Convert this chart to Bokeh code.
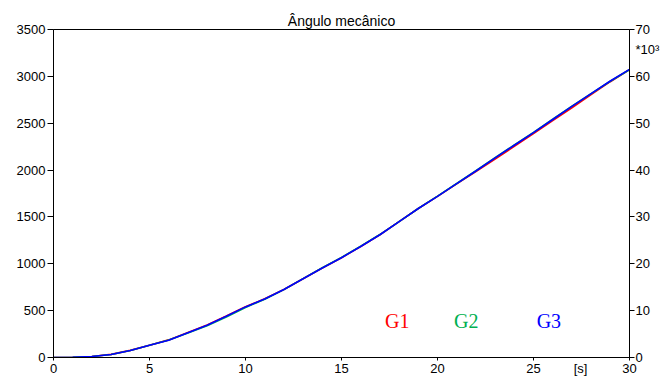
from bokeh.plotting import figure
from bokeh.models import Range1d, LinearAxis, FixedTicker, Label
from bokeh.embed import file_html
from bokeh.resources import INLINE

# time [s]
t = [0, 1, 2, 3, 4, 5, 6, 7, 8, 9, 10, 11, 12, 13, 14, 15, 16, 17, 18, 19, 20,
     21, 22, 23, 24, 25, 26, 27, 28, 29, 30]
# mechanical angle
g1 = [0, 3, 10, 33, 76, 131, 188, 268, 348, 442, 541, 626, 726, 840, 955, 1065, 1185, 1310,
      1450, 1590, 1720, 1852, 1985, 2117, 2252, 2390, 2527, 2665, 2805, 2943, 3072]
g2 = [0, 3, 11, 32, 75, 130, 186, 262, 338, 432, 533, 622, 724, 842, 958, 1068, 1188, 1312,
      1450, 1590, 1722, 1857, 1993, 2133, 2268, 2403, 2542, 2682, 2815, 2948, 3070]
g3 = [0, 3, 10, 32, 75, 130, 185, 265, 345, 440, 540, 625, 725, 840, 955, 1065, 1185, 1310,
      1450, 1590, 1720, 1855, 1990, 2130, 2265, 2400, 2540, 2680, 2815, 2950, 3075]

series_names = ["G1", "G2", "G3"]
series_colors = ["#ff0000", "#00b050", "#0000ff"]
label_x = [17.9, 21.5, 25.8]
label_y = 390

x_ticks = [0, 5, 10, 15, 20, 25, 30]
y_ticks = [0, 500, 1000, 1500, 2000, 2500, 3000, 3500]
y2_ticks = [0, 10, 20, 30, 40, 50, 60, 70]

title_text = "Ângulo mecânico"
unit_text = "[s]"
unit_pos = 27.45          # x position of the unit text on the time axis
scale_text = "*10³"
scale_pos = 65.7          # position of the multiplier on the right axis

FONT = "Liberation Sans"

p = figure(width=662, height=378, output_backend="svg", toolbar_location=None,
           x_range=Range1d(0, 30), y_range=Range1d(0, 3500),
           min_border_left=53, min_border_right=33, min_border_top=29, min_border_bottom=21)
p.extra_y_ranges = {"r": Range1d(0, 70)}

p.title.text = title_text
p.title.align = "center"
p.title.text_font = FONT
p.title.text_font_size = "14px"
p.title.text_font_style = "normal"
p.title.text_color = "black"
p.title.standoff = 2
p.title.offset = -3

p.xgrid.visible = False
p.ygrid.visible = False
p.outline_line_color = "black"
p.outline_line_width = 1
p.background_fill_color = "white"
p.border_fill_color = "white"

def style_axis(ax):
    ax.axis_line_color = "black"
    ax.major_tick_line_color = "black"
    ax.minor_tick_line_color = "black"
    ax.major_tick_in = 0
    ax.minor_tick_in = 0
    ax.major_label_text_font = FONT
    ax.major_label_text_font_size = "13px"
    ax.major_label_text_color = "black"

# bottom axis: tick marks drawn as minor ticks, labels (incl. unit) as major
xa = p.xaxis[0]
style_axis(xa)
xa.ticker = FixedTicker(ticks=sorted(x_ticks + [unit_pos]), minor_ticks=x_ticks)
xa.major_label_overrides = {unit_pos: unit_text}
xa.major_tick_out = 0
xa.minor_tick_out = 3
xa.major_label_standoff = 0

ya = p.yaxis[0]
style_axis(ya)
ya.ticker = FixedTicker(ticks=y_ticks)
ya.minor_tick_line_color = None
ya.major_tick_out = 6
ya.major_label_standoff = 2

ax2 = LinearAxis(y_range_name="r")
style_axis(ax2)
ax2.ticker = FixedTicker(ticks=sorted(y2_ticks + [scale_pos]), minor_ticks=y2_ticks)
ax2.major_label_overrides = {scale_pos: scale_text}
ax2.major_tick_out = 0
ax2.minor_tick_out = 5
ax2.major_label_standoff = 1
p.add_layout(ax2, "right")

for ys, c in zip([g1, g2, g3], series_colors):
    p.line(t, ys, line_color=c, line_width=1.6)

for name, c, lx in zip(series_names, series_colors, label_x):
    p.add_layout(Label(x=lx, y=label_y, text=name, text_color=c, text_font="Liberation Serif",
                       text_font_size="20px", text_align="center", text_baseline="middle"))

open("out.html", "w").write(file_html(p, INLINE))
